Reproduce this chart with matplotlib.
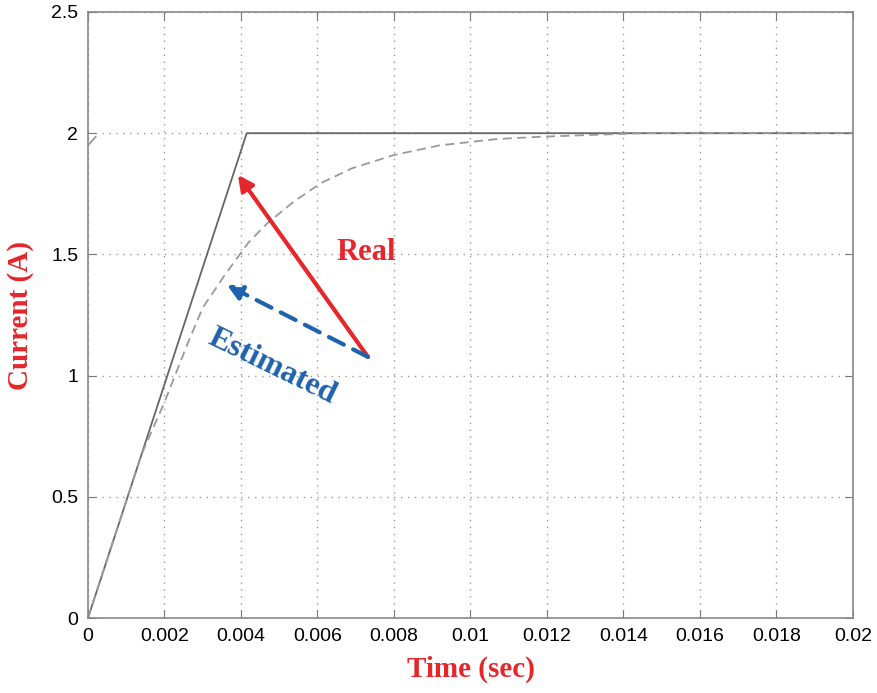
import numpy as np
import matplotlib
matplotlib.use('Agg')
import matplotlib.pyplot as plt

# real current: linear ramp then flat at 2 A
t_real = [0.0, 0.00415, 0.02]
i_real = [0.0, 2.0, 2.0]

# estimated current
t_est = [0.0, 0.0014, 0.002, 0.0026, 0.003, 0.0036, 0.0042, 0.0047, 0.0054,
         0.0061, 0.0069, 0.008, 0.0092, 0.0107, 0.0118, 0.013, 0.0145, 0.02]
i_est = [0.0, 0.675, 0.89, 1.13, 1.28, 1.42, 1.55, 1.63, 1.72,
         1.795, 1.855, 1.91, 1.95, 1.976, 1.985, 1.992, 2.0, 2.0]

# small leftover piece of the estimated trace at t=0
t_est0 = [0.0, 0.0002]
i_est0 = [1.95, 1.985]

xticks = [0, 0.002, 0.004, 0.006, 0.008, 0.01, 0.012, 0.014, 0.016, 0.018, 0.02]
xticklabels = ['0', '0.002', '0.004', '0.006', '0.008', '0.01', '0.012',
               '0.014', '0.016', '0.018', '0.02']
yticks = [0, 0.5, 1, 1.5, 2, 2.5]
yticklabels = ['0', '0.5', '1', '1.5', '2', '2.5']

red = '#e5262b'
blue = '#1f62ad'

fig = plt.figure(figsize=(8.78, 6.93), dpi=100)
ax = fig.add_axes([0.1002, 0.1082, 0.8713, 0.8745])

ax.plot(t_real, i_real, color='#666666', lw=1.3)
ax.plot(t_est, i_est, color='#9a9a9a', lw=1.3, ls=(0, (5, 3)))
ax.plot(t_est0, i_est0, color='#9a9a9a', lw=1.3)

ax.set_xlim(0, 0.02)
ax.set_ylim(0, 2.5)
ax.set_xticks(xticks)
ax.set_xticklabels(xticklabels, fontfamily='Liberation Sans', fontsize=14)
ax.set_yticks(yticks)
ax.set_yticklabels(yticklabels, fontfamily='Liberation Sans', fontsize=14)
ax.tick_params(direction='in', length=6, color='#777777', top=True, right=True, pad=7)
ax.grid(True, ls=(0, (1, 4)), color='#999999', lw=1)
for s in ax.spines.values():
    s.set_color('#888888')
    s.set_linewidth(1.2)

ax.set_xlabel('Time (sec)', color=red, fontfamily='Liberation Serif',
              fontweight='bold', fontsize=21, labelpad=8)
ax.set_ylabel('Current (A)', color=red, fontfamily='Liberation Serif',
              fontweight='bold', fontsize=21, labelpad=12)

# arrows and labels
ax.annotate('', xy=(0.00392, 1.828), xytext=(0.00732, 1.077),
            arrowprops=dict(arrowstyle='-|>,head_length=0.9,head_width=0.45',
                            color=red, lw=3, shrinkA=0, shrinkB=0))
ax.annotate('', xy=(0.00363, 1.374), xytext=(0.00732, 1.077),
            arrowprops=dict(arrowstyle='-|>,head_length=0.9,head_width=0.45',
                            color=blue, lw=3, ls=(0, (4, 2.5)),
                            shrinkA=0, shrinkB=0))
ax.text(0.00727, 1.506, 'Real', color=red, fontfamily='Liberation Serif',
        fontweight='bold', fontsize=22, ha='center', va='center')
ax.text(0.00481, 1.035, 'Estimated', color=blue, fontfamily='Liberation Serif',
        fontweight='bold', fontsize=23, ha='center', va='center', rotation=-26)

fig.savefig('out.png', dpi=100)
